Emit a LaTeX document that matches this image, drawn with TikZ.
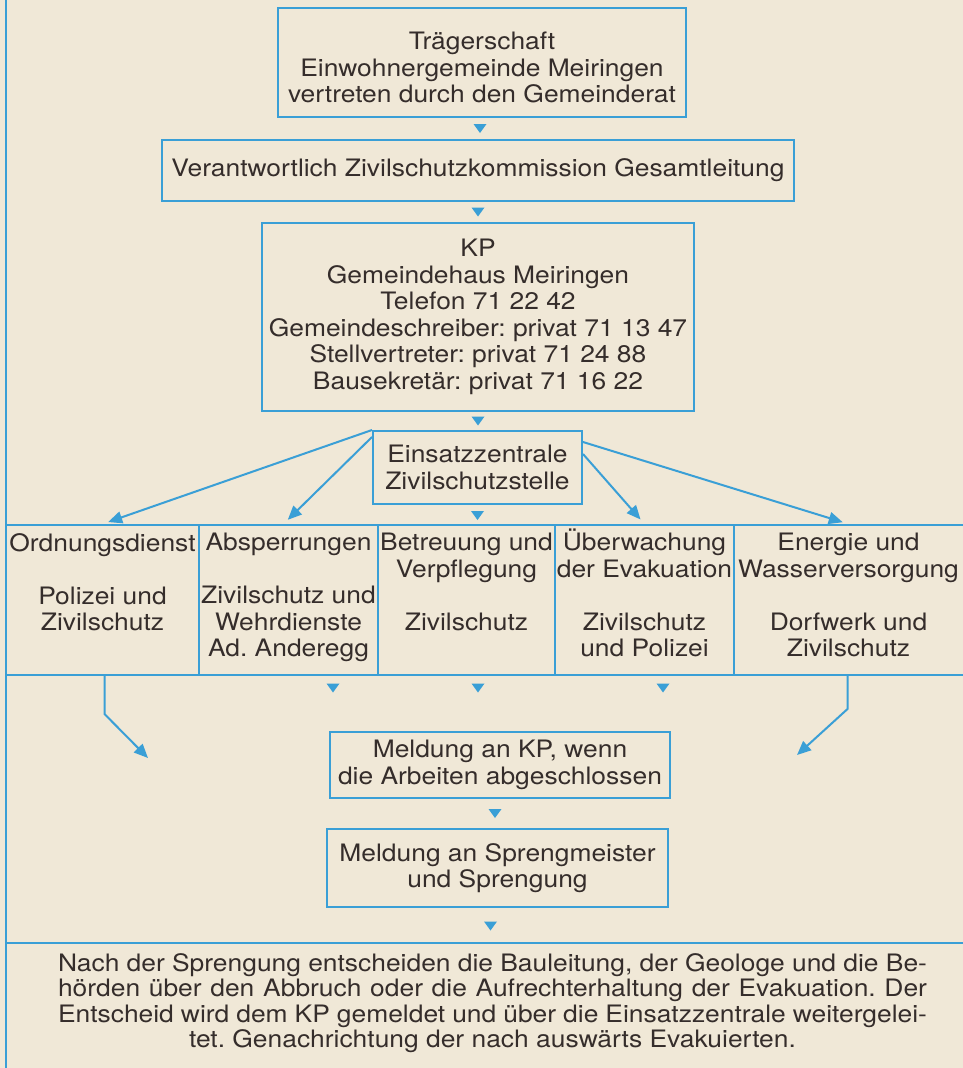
\documentclass[tikz,border=0pt]{standalone}
\usepackage{fontspec}
\setmainfont{TeX Gyre Heros}[FakeStretch=1.1]
\usetikzlibrary{arrows.meta,positioning}
\frenchspacing

\definecolor{planblue}{HTML}{3A9FD6}
\definecolor{paper}{HTML}{F0E8D7}
\definecolor{ink}{HTML}{352D2B}

\tikzset{
  droptip/.pic={\fill[planblue] (-6.5,-4.5) -- (6.5,-4.5) -- (0,4.5) -- cycle;}
}

\begin{document}
\begin{tikzpicture}[x=1pt,y=-1pt,
  every node/.style={font=\fontsize{24}{26.5}\selectfont, text=ink},
  box/.style={draw=planblue, line width=2pt, align=center, inner sep=0pt},
  cell/.style={draw=planblue, line width=2pt, minimum height=150pt, inner sep=0pt},
  celltext/.style={below=9pt, align=center, inner sep=0pt},
  flow/.style={draw=planblue, line width=2pt, -{Triangle[length=14pt,width=12pt]}}]
  \fill[paper] (0,0) rectangle (963,1068);
  \useasboundingbox (0,0) rectangle (963,1068);

  % frame on the left and above the closing note
  \draw[planblue, line width=2pt] (6,-5) -- (6,1075);
  \draw[planblue, line width=2pt] (6,943) -- (975,943);

  % chain of command
  \node[box, minimum width=408pt, minimum height=109pt] (traeger) at (482,62.5)
    {\rule{0pt}{28pt}Trägerschaft\\Einwohnergemeinde Meiringen\\vertreten durch den Gemeinderat};
  \node[box, minimum width=632pt, minimum height=61pt] (kommission) at (478,170.5)
    {Verantwortlich Zivilschutzkommission Gesamtleitung};
  \node[box, minimum width=432pt, minimum height=188pt] (kp) at (478,317)
    {KP\\Gemeindehaus Meiringen\\Telefon 71 22 42\\Gemeindeschreiber: privat 71 13 47\\
     Stellvertreter: privat 71 24 88\\Bausekretär: privat 71 16 22};
  \node[box, minimum width=209pt, minimum height=73pt] (einsatz) at (477.5,467.5)
    {Einsatzzentrale\\Zivilschutzstelle};

  % row of services
  \node[cell, minimum width=193pt] (ordnung) at (102.5,600) {};
  \node[cell, minimum width=179pt] (absperr) at (288.5,600) {};
  \node[cell, minimum width=177pt] (betreuung) at (466.5,600) {};
  \node[cell, minimum width=179pt] (ueberw) at (644.5,600) {};
  \node[cell, minimum width=241pt] (energie) at (854.5,600) {};
  \node[celltext] (ordnungtxt) at (ordnung.north)
    {Ordnungsdienst\\[26.5pt]Polizei und\\Zivilschutz};
  \node[celltext] (absperrtxt) at (absperr.north)
    {Absperrungen\\[26.5pt]Zivilschutz und\\Wehrdienste\\Ad. Anderegg};
  \node[celltext] (betreuungtxt) at (betreuung.north)
    {Betreuung und\\Verpflegung\\[26.5pt]Zivilschutz};
  \node[celltext, yshift=4pt] (ueberwtxt) at (ueberw.north)
    {Überwachung\\der Evakuation\\[26.5pt]Zivilschutz\\und Polizei};
  \node[celltext] (energietxt) at ([xshift=-6pt]energie.north)
    {Energie und\\Wasserversorgung\\[26.5pt]Dorfwerk und\\Zivilschutz};

  % reports
  \node[box, minimum width=340pt, minimum height=66pt] (meldung) at (500,765)
    {Meldung an KP, wenn\\die Arbeiten abgeschlossen};
  \node[box, minimum width=341pt, minimum height=78pt] (sprengung) at (497.5,868)
    {Meldung an Sprengmeister\\und Sprengung};
  \node[align=center, inner sep=0pt, font=\fontsize{24}{25.5}\selectfont] (entscheid) at (492.5,1003)
    {\makebox[869pt][s]{Nach der Sprengung entscheiden die Bauleitung, der Geologe und die Be-}\\
     \makebox[869pt][s]{hörden über den Abbruch oder die Aufrechterhaltung der Evakuation. Der}\\
     \makebox[869pt][s]{Entscheid wird dem KP gemeldet und über die Einsatzzentrale weitergelei-}\\
     tet. Genachrichtung der nach auswärts Evakuierten.};

  % connectors
  \draw[flow, shorten >=6pt] (einsatz.north west) -- (ordnung.north);
  \draw[flow, shorten >=6pt] ([yshift=-7pt]einsatz.north west) -- ([xshift=-5pt]absperr.north);
  \draw[flow, shorten >=6pt] ([yshift=-24pt]einsatz.north east) -- (ueberw.north);
  \draw[flow, shorten >=6pt] ([yshift=-12pt]einsatz.north east) -- ([xshift=-6pt]energie.north);
  \coordinate (leftin) at (148,758);
  \coordinate (rightin) at (797,755);
  \draw[flow] ([xshift=2pt]ordnung.south) -- ++(0,38) -- (leftin);
  \draw[flow] ([xshift=-7pt]energie.south) -- ++(0,33) -- (rightin);

  % small drop marks
  \path (traeger.south) -- (kommission.north) coordinate[midway] (drop1);
  \path (kommission.south) -- (kommission.south |- kp.north) coordinate[midway] (drop2);
  \path (kp.south) -- (kp.south |- einsatz.north) coordinate[midway] (drop3);
  \path (einsatz.south) -- ++(0,21) coordinate[midway] (drop4);
  \path (meldung.south) -- ([xshift=-10pt]meldung.south |- sprengung.north) coordinate[midway] (drop5);
  \path ([xshift=-7pt]sprengung.south) -- ++(0,36) coordinate[midway] (drop6);
  \foreach \dropat in {drop1,drop2,drop3,drop4,drop5,drop6}
    \pic at (\dropat) {droptip};
  \foreach \dropx in {333,478,663}
    \pic at (\dropx,688) {droptip};
\end{tikzpicture}
\end{document}
